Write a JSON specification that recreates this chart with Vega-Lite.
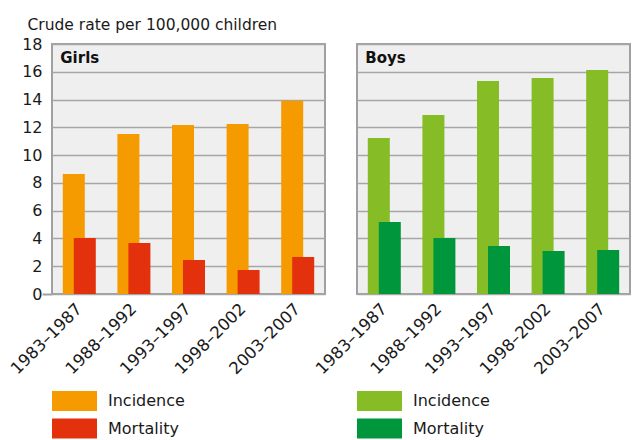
{
  "$schema": "https://vega.github.io/schema/vega-lite/v6.json",
  "autosize": {"type": "pad"},
  "padding": {"left": 6, "top": 16, "right": 0, "bottom": 0},
  "bounds": "flush",
  "spacing": 32,
  "background": "white",
  "config": {
    "font": "DejaVu Sans",
    "view": {"fill": "#efefef", "stroke": "#a0a0a0", "strokeWidth": 2},
    "axis": {"labelColor": "#1a1a1a", "labelFont": "DejaVu Sans", "titleFont": "DejaVu Sans"}
  },
  "data": {
    "values": [
      {"sex": "Girls", "period": "1983–1987", "measure": "Incidence", "value": 8.64},
      {"sex": "Girls", "period": "1988–1992", "measure": "Incidence", "value": 11.52},
      {"sex": "Girls", "period": "1993–1997", "measure": "Incidence", "value": 12.17},
      {"sex": "Girls", "period": "1998–2002", "measure": "Incidence", "value": 12.24},
      {"sex": "Girls", "period": "2003–2007", "measure": "Incidence", "value": 13.92},
      {"sex": "Girls", "period": "1983–1987", "measure": "Mortality", "value": 4.03},
      {"sex": "Girls", "period": "1988–1992", "measure": "Mortality", "value": 3.67},
      {"sex": "Girls", "period": "1993–1997", "measure": "Mortality", "value": 2.45},
      {"sex": "Girls", "period": "1998–2002", "measure": "Mortality", "value": 1.73},
      {"sex": "Girls", "period": "2003–2007", "measure": "Mortality", "value": 2.66},
      {"sex": "Boys", "period": "1983–1987", "measure": "Incidence", "value": 11.23},
      {"sex": "Boys", "period": "1988–1992", "measure": "Incidence", "value": 12.89},
      {"sex": "Boys", "period": "1993–1997", "measure": "Incidence", "value": 15.33},
      {"sex": "Boys", "period": "1998–2002", "measure": "Incidence", "value": 15.55},
      {"sex": "Boys", "period": "2003–2007", "measure": "Incidence", "value": 16.13},
      {"sex": "Boys", "period": "1983–1987", "measure": "Mortality", "value": 5.18},
      {"sex": "Boys", "period": "1988–1992", "measure": "Mortality", "value": 4.03},
      {"sex": "Boys", "period": "1993–1997", "measure": "Mortality", "value": 3.46},
      {"sex": "Boys", "period": "1998–2002", "measure": "Mortality", "value": 3.10},
      {"sex": "Boys", "period": "2003–2007", "measure": "Mortality", "value": 3.17}
    ]
  },
  "resolve": {"scale": {"color": "independent", "y": "independent", "x": "independent"}, "legend": {"color": "independent"}},
  "hconcat": [
    {
      "width": 273,
      "height": 250,
      "transform": [{"filter": "datum.sex === 'Girls'"}],
      "encoding": {
        "x": {"field": "period", "type": "nominal", "sort": null, "scale": {"paddingInner": 0, "paddingOuter": 0},
          "axis": {"title": null, "labelAngle": -45, "labelAlign": "right", "labelBaseline": "middle", "labelFontSize": 16.5, "labelPadding": 12, "ticks": false, "domain": false}},
        "y": {"field": "value", "type": "quantitative", "scale": {"domain": [0, 18]},
          "axis": {"values": [0, 2, 4, 6, 8, 10, 12, 14, 16, 18], "labelFontSize": 16, "labelPadding": 0, "domain": false,
            "ticks": true, "tickSize": 10, "tickWidth": 2, "tickColor": "#a0a0a0",
            "tickOpacity": {"condition": {"test": "datum.value === 0", "value": 1}, "value": 0},
            "gridColor": "#a6a6a6", "gridWidth": 1.6, "gridOpacity": 1,
            "title": "Crude rate per 100,000 children", "titleAngle": 0, "titleAlign": "left", "titleBaseline": "alphabetic",
            "titleX": -25, "titleY": -15, "titleFontSize": 15.5, "titleFontWeight": "normal", "titleColor": "#1a1a1a"}}
      },
      "layer": [
        {"transform": [{"filter": "datum.measure === 'Incidence'"}], "mark": {"type": "bar", "width": 22, "xOffset": -5.5, "opacity": 1},
          "encoding": {"color": {"field": "measure", "type": "nominal", "scale": {"domain": ["Incidence", "Mortality"], "range": ["#f59b00", "#e3310e"]},
          "legend": {"orient": "none", "legendX": 12.5, "legendY": 347, "direction": "vertical", "title": null, "padding": 0,
            "symbolType": "M-2.25,-1H2.25V1H-2.25Z", "symbolSize": 400, "symbolStrokeWidth": 0, "symbolOpacity": 1,
            "labelFontSize": 16, "labelOffset": 23.5, "rowPadding": 7.5, "labelColor": "#1a1a1a", "labelFont": "DejaVu Sans"}}}},
        {"transform": [{"filter": "datum.measure === 'Mortality'"}], "mark": {"type": "bar", "width": 22, "xOffset": 5.5, "opacity": 1},
          "encoding": {"color": {"field": "measure", "type": "nominal"}}},
        {"transform": [{"filter": "datum.measure === 'Incidence' && datum.period === '1983–1987'"}],
          "mark": {"type": "text", "align": "left", "baseline": "middle", "dx": -19, "fontSize": 15, "fontWeight": "bold", "color": "#111", "font": "DejaVu Sans"},
          "encoding": {"text": {"field": "sex"}, "y": {"datum": 17}}}
      ]
    },
    {
      "width": 273,
      "height": 250,
      "transform": [{"filter": "datum.sex === 'Boys'"}],
      "encoding": {
        "x": {"field": "period", "type": "nominal", "sort": null, "scale": {"paddingInner": 0, "paddingOuter": 0},
          "axis": {"title": null, "labelAngle": -45, "labelAlign": "right", "labelBaseline": "middle", "labelFontSize": 16.5, "labelPadding": 12, "ticks": false, "domain": false}},
        "y": {"field": "value", "type": "quantitative", "scale": {"domain": [0, 18]},
          "axis": {"values": [0, 2, 4, 6, 8, 10, 12, 14, 16, 18], "labels": false, "ticks": false, "domain": false, "title": null,
            "gridColor": "#a6a6a6", "gridWidth": 1.6, "gridOpacity": 1}}
      },
      "layer": [
        {"transform": [{"filter": "datum.measure === 'Incidence'"}], "mark": {"type": "bar", "width": 22, "xOffset": -5.5, "opacity": 1},
          "encoding": {"color": {"field": "measure", "type": "nominal", "scale": {"domain": ["Incidence", "Mortality"], "range": ["#86bc25", "#00963c"]},
          "legend": {"orient": "none", "legendX": 12.5, "legendY": 347, "direction": "vertical", "title": null, "padding": 0,
            "symbolType": "M-2.25,-1H2.25V1H-2.25Z", "symbolSize": 400, "symbolStrokeWidth": 0, "symbolOpacity": 1,
            "labelFontSize": 16, "labelOffset": 23.5, "rowPadding": 7.5, "labelColor": "#1a1a1a", "labelFont": "DejaVu Sans"}}}},
        {"transform": [{"filter": "datum.measure === 'Mortality'"}], "mark": {"type": "bar", "width": 22, "xOffset": 5.5, "opacity": 1},
          "encoding": {"color": {"field": "measure", "type": "nominal"}}},
        {"transform": [{"filter": "datum.measure === 'Incidence' && datum.period === '1983–1987'"}],
          "mark": {"type": "text", "align": "left", "baseline": "middle", "dx": -19, "fontSize": 15, "fontWeight": "bold", "color": "#111", "font": "DejaVu Sans"},
          "encoding": {"text": {"field": "sex"}, "y": {"datum": 17}}}
      ]
    }
  ]
}
